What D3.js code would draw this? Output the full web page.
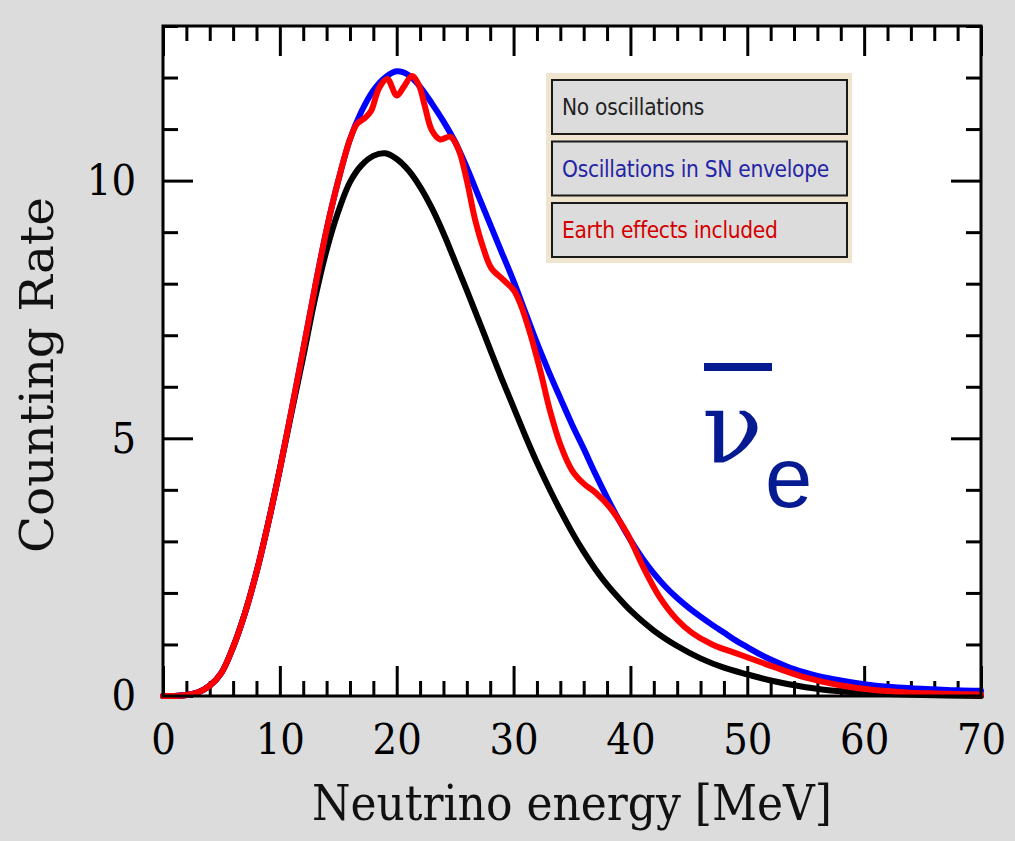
<!DOCTYPE html>
<html>
<head>
<meta charset="utf-8">
<script src="https://cdn.jsdelivr.net/npm/d3@7"></script>
<style>
  body { margin: 0; background: #dcdcdc; }
  svg { display: block; }
</style>
</head>
<body>
<div id="chart"></div>
<script>
// series: energy [MeV] and counting rate
const noOscEnergy = [0,1,2,3,4,5,6,7,8,9,10,11,12,13,14,15,16,17,18,19,20,21,22,23,24,25,26,27,28,29,30,31,32,33,34,35,36,37,38,39,40,42,44,46,48,50,52,55,58,60,65,70];
const noOscRate = [0,0,0.02,0.07,0.2,0.45,0.95,1.6,2.4,3.35,4.4,5.5,6.58,7.7,8.65,9.4,9.97,10.3,10.48,10.53,10.42,10.2,9.88,9.47,8.98,8.43,7.87,7.3,6.72,6.15,5.6,5.05,4.53,4.05,3.6,3.18,2.8,2.46,2.16,1.9,1.66,1.27,0.97,0.73,0.55,0.42,0.3,0.17,0.09,0.06,0.02,0.0];

const envEnergy = [0,1,2,3,4,5,6,7,8,9,10,11,12,13,14,15,16,17,18,19,20,21,22,23,24,25,26,27,28,29,30,31,32,33,34,35,36,37,38,39,40,41,42,43,44,45,46,47,48,49,50,51,52,54,56,58,60,62,64,66,68,70];
const envRate = [0,0,0.02,0.07,0.2,0.45,0.95,1.6,2.4,3.35,4.4,5.55,6.72,7.92,9.05,10.0,10.8,11.35,11.75,12.0,12.12,12.05,11.82,11.5,11.15,10.75,10.25,9.7,9.15,8.6,8.05,7.45,6.85,6.3,5.78,5.27,4.8,4.31,3.85,3.42,3.03,2.68,2.38,2.12,1.9,1.71,1.54,1.38,1.23,1.08,0.95,0.82,0.71,0.52,0.39,0.3,0.23,0.18,0.15,0.13,0.11,0.1];

const earthEnergy = [0,1,2,3,4,5,6,7,8,9,10,11,12,13,14,15,16,16.6,17.3,17.8,18.5,19.2,20,20.6,21.3,21.9,22.4,23,23.7,24.6,25.3,26,26.7,27.4,28.1,29.1,30,30.6,31.4,32.3,33.1,34,35,36,37,38.2,39.7,41.1,42.5,44,45.3,47,49.4,52.2,55.1,57.9,60.7,63.6,66,70];
const earthRate = [0,0,0.02,0.07,0.2,0.45,0.95,1.6,2.4,3.35,4.4,5.55,6.72,7.92,9.05,10.0,10.8,11.1,11.22,11.35,11.8,11.97,11.65,11.82,12.03,11.85,11.45,10.98,10.8,10.85,10.6,10.0,9.25,8.7,8.3,8.08,7.88,7.6,7.05,6.3,5.55,4.88,4.38,4.12,3.95,3.67,3.16,2.5,1.92,1.48,1.22,1.0,0.8,0.57,0.35,0.21,0.12,0.07,0.05,0.03];

const legendLabels = ['No oscillations', 'Oscillations in SN envelope', 'Earth effects included'];
const legendColors = ['#222222', '#2424a6', '#d40000'];
const seriesColors = ['#000000', '#0000ff', '#ff0000'];

const xMajorTicks = [0,10,20,30,40,50,60,70];
const yMajorTicks = [0,5,10];

const width = 1015;
const height = 841;
const margin = { top: 26, right: 34, bottom: 145, left: 163 };

const svg = d3.select('#chart')
  .append('svg')
  .attr('width', width)
  .attr('height', height);

svg.append('rect')
  .attr('width', width)
  .attr('height', height)
  .attr('fill', '#dcdcdc');

const x = d3.scaleLinear().domain([0, 70]).range([margin.left, width - margin.right]);
const y = d3.scaleLinear().domain([0, 13]).range([height - margin.bottom, margin.top]);

// plot area
svg.append('rect')
  .attr('x', x(0))
  .attr('y', y(13))
  .attr('width', x(70) - x(0))
  .attr('height', y(0) - y(13))
  .attr('fill', '#ffffff');

const serif = "'DejaVu Serif Condensed', 'DejaVu Serif', serif";
const minorX = d3.range(0, 71, 2).filter(d => d % 10 !== 0);
const minorY = d3.range(0, 14, 1).filter(d => d % 5 !== 0);

// inward ticks on all four sides
function tickAxis(axisFn, scale, values, size, transform, labels) {
  const axis = axisFn(scale)
    .tickValues(values)
    .tickSize(-size)
    .tickPadding(labels ? 27 : 0)
    .tickFormat(labels ? d3.format('d') : '');
  const g = svg.append('g').attr('transform', transform).call(axis);
  g.select('.domain').remove();
  g.selectAll('line').attr('stroke', '#000').attr('stroke-width', 3);
  g.selectAll('text')
    .attr('fill', '#000')
    .style('font-family', serif)
    .style('font-size', '43px');
  return g;
}

const bottomT = `translate(0,${y(0)})`;
const topT = `translate(0,${y(13)})`;
const leftT = `translate(${x(0)},0)`;
const rightT = `translate(${x(70)},0)`;

tickAxis(d3.axisBottom, x, minorX, 15, bottomT, false);
tickAxis(d3.axisBottom, x, xMajorTicks, 30, bottomT, true);
tickAxis(d3.axisTop, x, minorX, 15, topT, false);
tickAxis(d3.axisTop, x, xMajorTicks, 30, topT, false);
tickAxis(d3.axisLeft, y, minorY, 15, leftT, false);
tickAxis(d3.axisLeft, y, yMajorTicks, 30, leftT, true);
tickAxis(d3.axisRight, y, minorY, 15, rightT, false);
tickAxis(d3.axisRight, y, yMajorTicks, 30, rightT, false);

// curves
const line = d3.line()
  .x(d => x(d[0]))
  .y(d => y(d[1]))
  .curve(d3.curveCatmullRom.alpha(0.5));

const series = [
  d3.zip(noOscEnergy, noOscRate),
  d3.zip(envEnergy, envRate),
  d3.zip(earthEnergy, earthRate)
];

svg.append('g')
  .selectAll('path')
  .data(series)
  .enter()
  .append('path')
  .attr('d', line)
  .attr('fill', 'none')
  .attr('stroke', (d, i) => seriesColors[i])
  .attr('stroke-width', 6)
  .attr('stroke-linejoin', 'round')
  .attr('stroke-linecap', 'round');

// frame
svg.append('rect')
  .attr('x', x(0))
  .attr('y', y(13))
  .attr('width', x(70) - x(0))
  .attr('height', y(0) - y(13))
  .attr('fill', 'none')
  .attr('stroke', '#000')
  .attr('stroke-width', 3);

// axis titles
svg.append('text')
  .attr('x', 312)
  .attr('y', 820)
  .attr('textLength', 520)
  .attr('lengthAdjust', 'spacingAndGlyphs')
  .style('font-family', serif)
  .style('font-size', '48px')
  .attr('fill', '#111')
  .text('Neutrino energy [MeV]');

svg.append('text')
  .attr('transform', `translate(53,553) rotate(-90)`)
  .attr('textLength', 356)
  .attr('lengthAdjust', 'spacingAndGlyphs')
  .style('font-family', serif)
  .style('font-size', '46px')
  .attr('fill', '#111')
  .text('Counting Rate');

// legend
const legend = svg.append('g').attr('transform', 'translate(546,73)');
legend.append('rect')
  .attr('width', 306)
  .attr('height', 190)
  .attr('fill', '#efe5cf');

const items = legend.selectAll('g.item')
  .data(legendLabels)
  .enter()
  .append('g')
  .attr('class', 'item')
  .attr('transform', (d, i) => `translate(6,${7 + i * 61.5})`);

items.append('rect')
  .attr('width', 295)
  .attr('height', 54)
  .attr('fill', '#dcdcdc')
  .attr('stroke', '#1a1a1a')
  .attr('stroke-width', 2);

items.append('text')
  .attr('x', 10)
  .attr('y', 35)
  .attr('fill', (d, i) => legendColors[i])
  .style('font-family', "'DejaVu Sans Condensed', 'DejaVu Sans', sans-serif")
  .style('font-size', '22.5px')
  .style('letter-spacing', '-0.3px')
  .text(d => d);

// anti-neutrino label
const nu = svg.append('g').attr('fill', '#061a92');
nu.append('rect')
  .attr('x', 704)
  .attr('y', 363)
  .attr('width', 68)
  .attr('height', 8);
nu.append('text')
  .attr('x', 702)
  .attr('y', 462)
  .style('font-family', "'DejaVu Serif', serif")
  .style('font-size', '100px')
  .text('ν');
nu.append('text')
  .attr('x', 765)
  .attr('y', 507)
  .style('font-family', "'Liberation Sans', sans-serif")
  .style('font-size', '85px')
  .text('e');
</script>
</body>
</html>
